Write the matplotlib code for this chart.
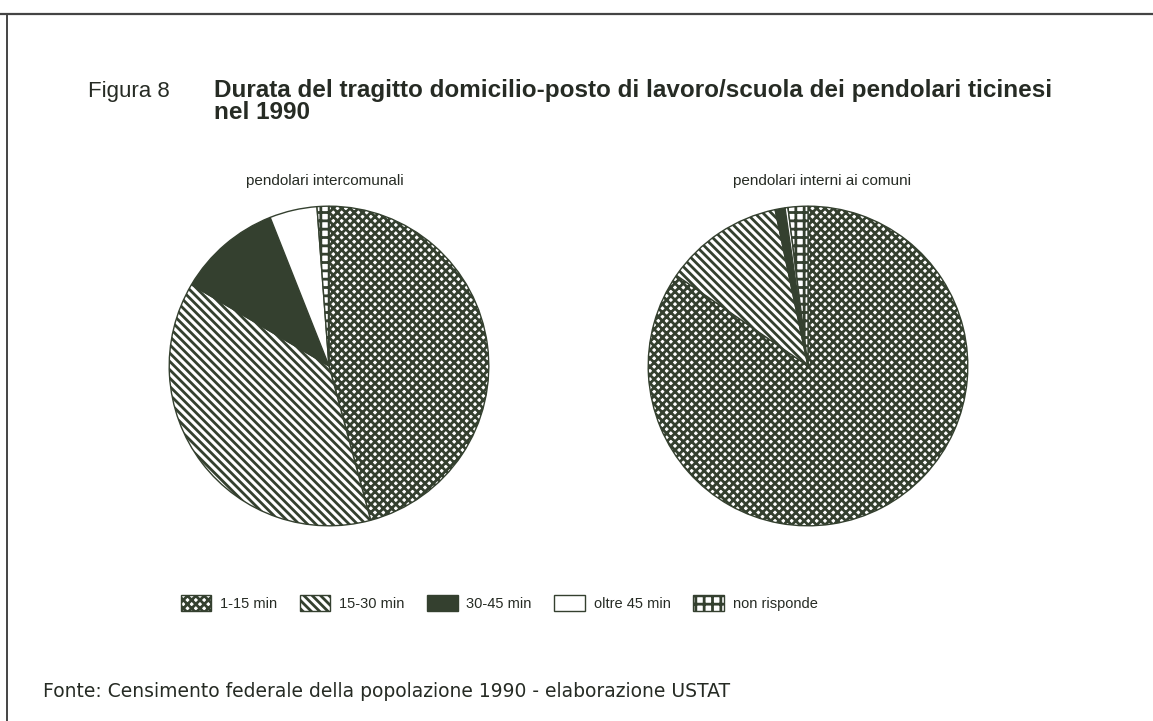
import matplotlib
matplotlib.use('Agg')
import matplotlib.pyplot as plt
from matplotlib.patches import Patch
from matplotlib.lines import Line2D

# dati (quote in %)
categorie = ['1-15 min', '15-30 min', '30-45 min', 'oltre 45 min', 'non risponde']
intercomunali = [45.8, 37.7, 10.5, 4.8, 1.2]
interni = [84.6, 12.1, 1.0, 0.3, 2.0]

titolo_num = 'Figura 8'
titolo = 'Durata del tragitto domicilio-posto di lavoro/scuola dei pendolari ticinesi\nnel 1990'
sub_sx = 'pendolari intercomunali'
sub_dx = 'pendolari interni ai comuni'
fonte = 'Fonte: Censimento federale della popolazione 1990 - elaborazione USTAT'

scuro = '#34402f'
testo = '#262b24'
colori = ['white', 'white', scuro, 'white', 'white']
tratteggi = ['xxxx', '\\\\\\\\', None, None, '++']

plt.rcParams['font.family'] = ['Liberation Sans', 'DejaVu Sans']
plt.rcParams['hatch.linewidth'] = 2.0

W, H = 1153, 721
fig = plt.figure(figsize=(W / 100, H / 100), dpi=100)


def fx(px):
    return px / W


def fy(py):
    return 1 - py / H


def disegna_torta(ax, valori):
    wedges, _ = ax.pie(valori, colors=colori, startangle=90, counterclock=False,
                       wedgeprops=dict(edgecolor=scuro, linewidth=1.0))
    for w, h in zip(wedges, tratteggi):
        if h:
            w.set_hatch(h)
    ax.set_xlim(-1.02, 1.02)
    ax.set_ylim(-1.02, 1.02)
    ax.set_aspect('equal')
    ax.axis('off')


# torta sinistra
ax1 = fig.add_axes([fx(166), fy(529), fx(326), 326 / H])
disegna_torta(ax1, intercomunali)
# torta destra
ax2 = fig.add_axes([fx(645), fy(529), fx(326), 326 / H])
disegna_torta(ax2, interni)

# titoli
fig.text(fx(88), fy(97), titolo_num, fontsize=16, color=testo, va='baseline')
fig.text(fx(214), fy(79), titolo, fontsize=17.5, fontweight='bold', color=testo,
         va='top', linespacing=0.92)

fig.text(fx(325), fy(185), sub_sx, fontsize=11, color=testo, ha='center', va='baseline')
fig.text(fx(822), fy(185), sub_dx, fontsize=11, color=testo, ha='center', va='baseline')

fig.text(fx(43), fy(697), fonte, fontsize=13.5, color=testo, va='baseline',
         family=['DejaVu Sans'])

# legenda
handles = [Patch(facecolor=c, edgecolor=scuro, hatch=h, linewidth=1.0)
           for c, h in zip(colori, tratteggi)]
fig.legend(handles, categorie, loc='center', bbox_to_anchor=(fx(499), fy(603)),
           ncol=5, frameon=False, fontsize=10.5, handlelength=2.1, handleheight=1.4,
           handletextpad=0.6, columnspacing=1.55, labelcolor=testo)

# cornice
fig.add_artist(Line2D([0, 1], [fy(14), fy(14)], color='#444444', linewidth=1.6))
fig.add_artist(Line2D([fx(7), fx(7)], [fy(14), 0], color='#444444', linewidth=1.4))

fig.savefig('out.png', dpi=100, facecolor='white')
